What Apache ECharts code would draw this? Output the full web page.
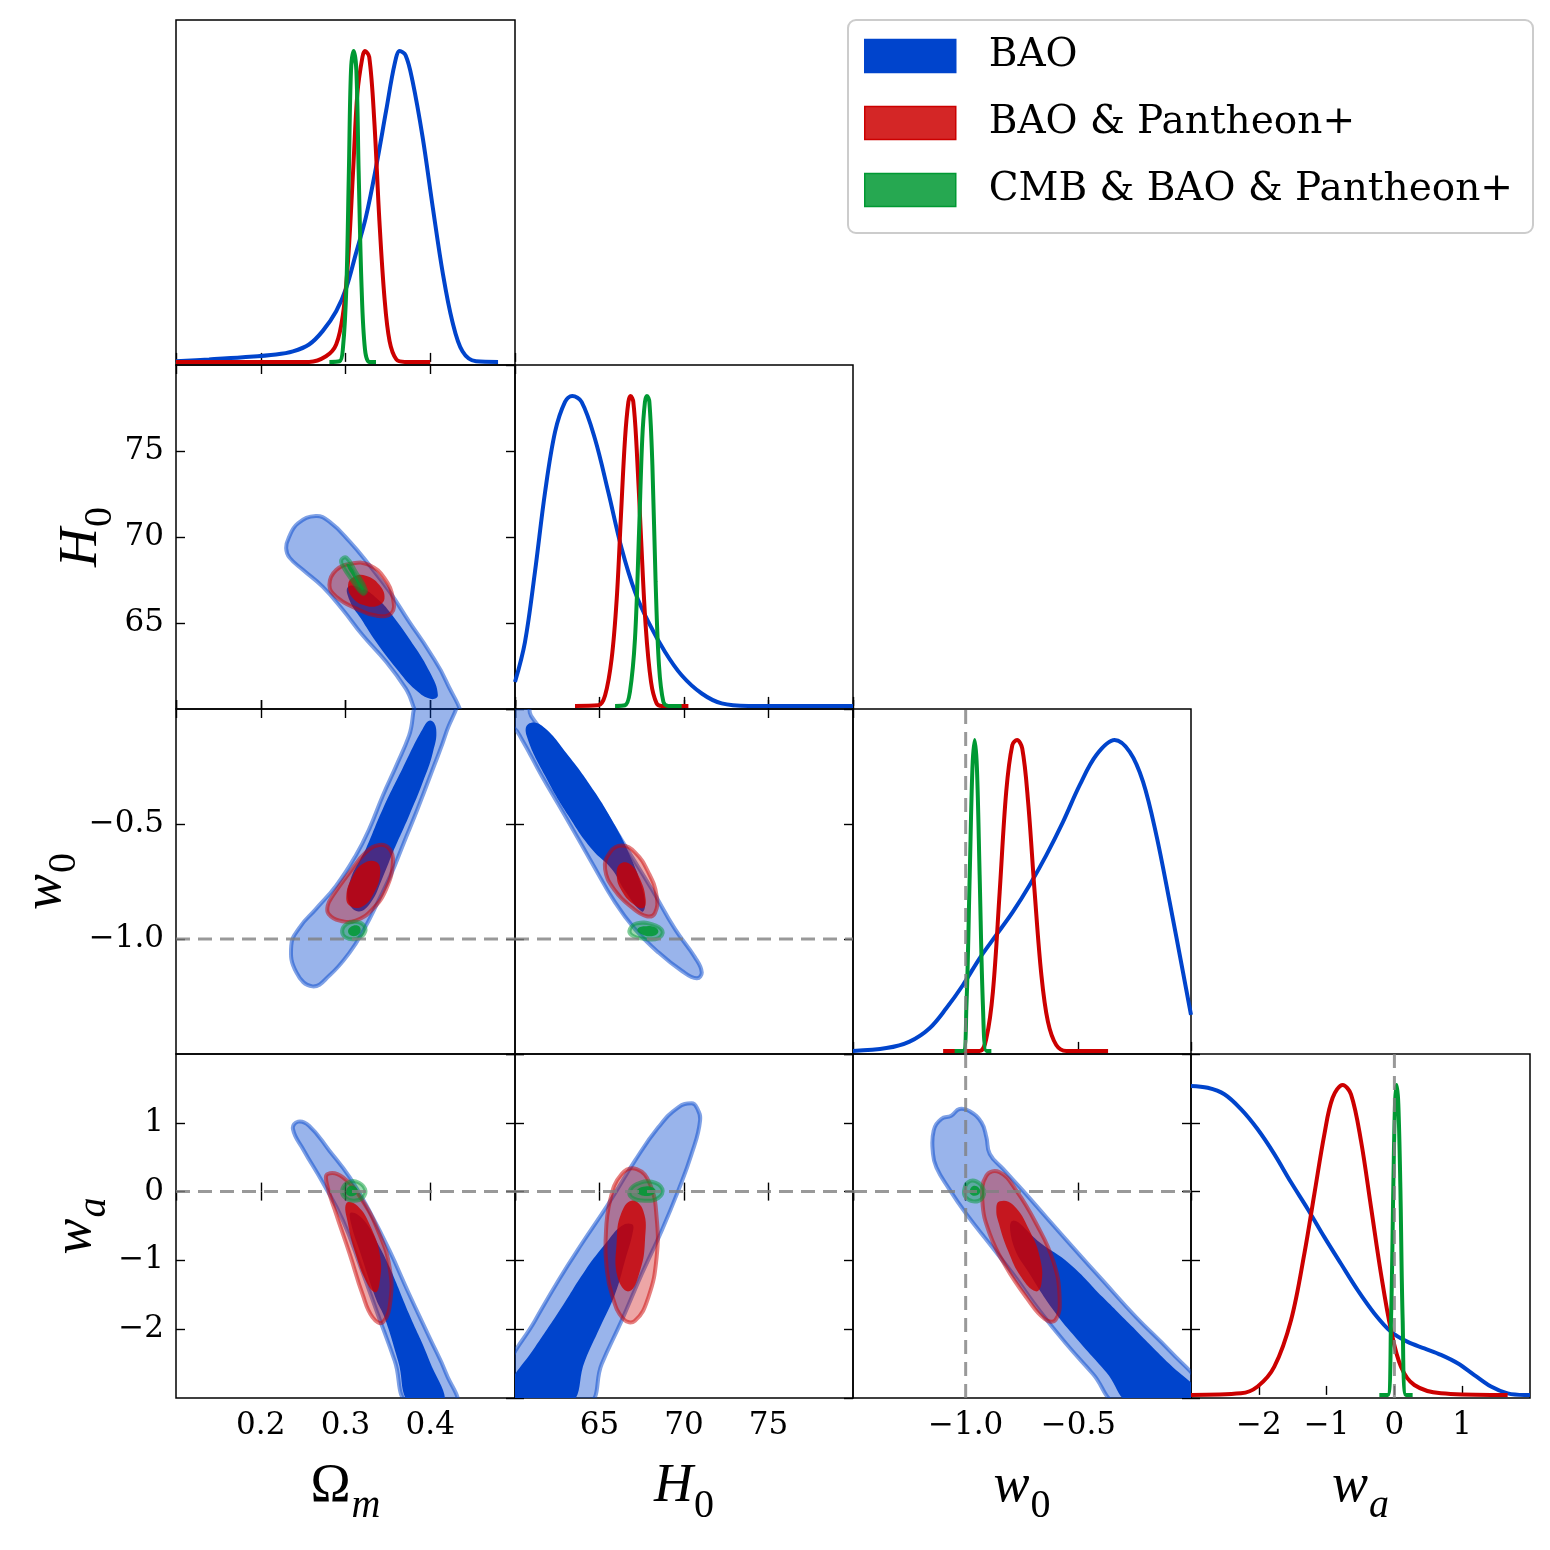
<!DOCTYPE html>
<html>
<head>
<meta charset="utf-8">
<script src="https://cdn.jsdelivr.net/npm/echarts@6/dist/echarts.min.js"></script>
<style>
  html, body { margin: 0; padding: 0; background: #fff; }
  #chart { width: 1550px; height: 1550px; }
</style>
</head>
<body>
<div id="chart"></div>
<script>
// dataset names
var datasets = ['BAO', 'BAO & Pantheon+', 'CMB & BAO & Pantheon+'];

// reference values (dashed lines)
var refW0 = -1;
var refWa = 0;

// ---- 1D marginals, normalised to peak = 1 ----
var om_pdf_bao = [[0.100,0.002],[0.139,0.008],[0.179,0.015],[0.218,0.024],[0.238,0.034],[0.257,0.056],[0.273,0.099],[0.289,0.163],[0.301,0.239],[0.312,0.346],[0.324,0.465],[0.336,0.626],[0.348,0.809],[0.358,0.959],[0.364,1.000],[0.371,0.986],[0.379,0.905],[0.391,0.723],[0.403,0.497],[0.415,0.282],[0.426,0.131],[0.438,0.034],[0.454,0.002],[0.480,0.000]];
var om_pdf_baop = [[0.100,0],[0.257,0],[0.277,0.018],[0.289,0.056],[0.297,0.153],[0.303,0.325],[0.309,0.615],[0.314,0.863],[0.320,0.981],[0.323,1.0],[0.328,0.981],[0.334,0.774],[0.340,0.454],[0.346,0.206],[0.352,0.067],[0.360,0.008],[0.370,0],[0.400,0]];
var om_pdf_cmb = [[0.281,0],[0.293,0.002],[0.297,0.045],[0.301,0.239],[0.304,0.615],[0.3065,0.938],[0.3096,1.0],[0.3128,0.938],[0.3155,0.615],[0.319,0.239],[0.323,0.04],[0.328,0],[0.336,0]];

var h0_pdf_bao = [[60.0,0.077],[60.59,0.206],[61.18,0.432],[61.78,0.690],[62.37,0.884],[62.96,0.981],[63.39,1.0],[63.94,0.981],[64.73,0.862],[65.52,0.690],[66.31,0.508],[67.10,0.368],[67.89,0.271],[68.88,0.174],[69.86,0.099],[71.05,0.040],[72.23,0.008],[73.81,0],[80,0]];
var h0_pdf_baop = [[63.55,0],[64.93,0.002],[65.33,0.034],[65.72,0.153],[66.02,0.346],[66.27,0.615],[66.51,0.862],[66.71,0.981],[66.84,1.0],[67.0,0.981],[67.20,0.830],[67.46,0.540],[67.73,0.260],[68.05,0.077],[68.38,0.008],[68.68,0],[70.26,0]];
var h0_pdf_cmb = [[65.92,0],[66.51,0.002],[66.80,0.045],[67.10,0.217],[67.34,0.561],[67.53,0.862],[67.69,0.981],[67.81,1.0],[67.95,0.981],[68.13,0.776],[68.32,0.4],[68.52,0.131],[68.78,0.013],[69.07,0],[69.86,0]];

var w0_pdf_bao = [[-1.5,0],[-1.352,0.009],[-1.249,0.030],[-1.160,0.073],[-1.086,0.137],[-1.012,0.212],[-0.938,0.298],[-0.864,0.373],[-0.790,0.448],[-0.716,0.534],[-0.642,0.630],[-0.568,0.737],[-0.494,0.855],[-0.420,0.952],[-0.339,1.0],[-0.272,0.962],[-0.213,0.866],[-0.154,0.695],[-0.095,0.480],[-0.036,0.255],[0.0,0.116]];
var w0_pdf_baop = [[-1.1,0],[-0.938,0],[-0.908,0.041],[-0.879,0.191],[-0.849,0.512],[-0.820,0.834],[-0.793,0.984],[-0.772,1.0],[-0.749,0.973],[-0.723,0.802],[-0.694,0.512],[-0.664,0.244],[-0.635,0.094],[-0.598,0.019],[-0.553,0],[-0.368,0]];
var w0_pdf_cmb = [[-1.049,0],[-1.012,0],[-0.997,0.137],[-0.982,0.566],[-0.970,0.909],[-0.960,1.0],[-0.950,0.909],[-0.938,0.566],[-0.923,0.137],[-0.908,0],[-0.886,0]];

var wa_pdf_bao = [[-3.0,0.997],[-2.754,0.991],[-2.508,0.970],[-2.263,0.922],[-2.017,0.857],[-1.771,0.777],[-1.525,0.686],[-1.279,0.600],[-1.033,0.509],[-0.788,0.423],[-0.542,0.338],[-0.296,0.263],[-0.050,0.204],[0.196,0.171],[0.441,0.150],[0.687,0.129],[0.933,0.102],[1.179,0.064],[1.425,0.027],[1.671,0.005],[1.917,0],[2.0,0]];
var wa_pdf_baop = [[-3.0,0],[-2.263,0.005],[-2.017,0.027],[-1.771,0.091],[-1.525,0.241],[-1.328,0.456],[-1.181,0.648],[-1.033,0.841],[-0.911,0.959],[-0.763,1.0],[-0.640,0.970],[-0.493,0.820],[-0.345,0.606],[-0.198,0.391],[-0.050,0.209],[0.097,0.091],[0.294,0.032],[0.687,0.005],[1.425,0],[1.67,0]];
var wa_pdf_cmb = [[-0.222,0],[-0.099,0],[-0.050,0.241],[-0.016,0.670],[0.009,0.938],[0.033,1.0],[0.058,0.938],[0.088,0.670],[0.122,0.241],[0.171,0],[0.269,0]];

// ---- 2D contours (95% outer, 68% inner) ----
var omH0_bao_95 = [[0.230,69.34],[0.233,69.95],[0.244,70.80],[0.265,71.22],[0.281,70.89],[0.305,69.73],[0.328,68.37],[0.352,66.82],[0.375,65.08],[0.399,63.33],[0.419,61.59],[0.434,59.4],[0.392,59.4],[0.371,61.20],[0.348,62.75],[0.320,64.30],[0.297,65.76],[0.273,67.11],[0.250,68.08],[0.234,68.80]];
var omH0_bao_68 = [[0.303,67.1],[0.320,67.0],[0.340,66.3],[0.352,65.66],[0.375,64.1],[0.399,62.2],[0.409,60.81],[0.401,60.58],[0.383,61.10],[0.360,62.36],[0.336,63.91],[0.318,65.27],[0.305,66.3]];
var omH0_baop_95 = [[0.281,67.21],[0.289,68.08],[0.309,68.47],[0.328,68.37],[0.346,67.60],[0.356,66.43],[0.354,65.56],[0.336,65.43],[0.312,65.85],[0.289,66.53]];
var omH0_baop_68 = [[0.303,67.21],[0.310,67.69],[0.324,67.75],[0.340,67.21],[0.346,66.43],[0.338,66.01],[0.324,66.01],[0.309,66.43]];
var omH0_cmb_95 = [[0.295,68.66],[0.301,68.80],[0.312,67.98],[0.324,66.92],[0.320,66.72],[0.309,67.40],[0.297,68.28]];
var omH0_cmb_68 = [[0.301,68.41],[0.305,68.37],[0.314,67.60],[0.322,66.92],[0.319,66.90],[0.310,67.60]];

var omW0_bao_95 = [[0.236,-1.029],[0.242,-1.145],[0.261,-1.206],[0.281,-1.159],[0.305,-1.058],[0.322,-0.957],[0.338,-0.841],[0.354,-0.717],[0.369,-0.580],[0.385,-0.435],[0.403,-0.261],[0.419,-0.101],[0.430,0.05],[0.389,0.05],[0.375,-0.116],[0.360,-0.246],[0.344,-0.377],[0.328,-0.522],[0.312,-0.638],[0.289,-0.768],[0.265,-0.870],[0.246,-0.949]];
var omW0_bao_68 = [[0.400,-0.050],[0.407,-0.087],[0.403,-0.19],[0.391,-0.32],[0.375,-0.464],[0.356,-0.623],[0.343,-0.74],[0.330,-0.84],[0.315,-0.88],[0.303,-0.83],[0.306,-0.74],[0.318,-0.65],[0.324,-0.609],[0.344,-0.435],[0.367,-0.261],[0.391,-0.087]];
var omW0_baop_95 = [[0.279,-0.855],[0.285,-0.812],[0.305,-0.710],[0.324,-0.623],[0.340,-0.591],[0.352,-0.609],[0.356,-0.667],[0.348,-0.783],[0.332,-0.870],[0.312,-0.920],[0.293,-0.920],[0.280,-0.891]];
var omW0_baop_68 = [[0.301,-0.812],[0.307,-0.739],[0.320,-0.674],[0.336,-0.664],[0.341,-0.710],[0.334,-0.797],[0.320,-0.859],[0.305,-0.855]];
var omW0_cmb_95 = [[0.296,-0.964],[0.301,-0.935],[0.312,-0.925],[0.322,-0.942],[0.322,-0.978],[0.312,-1.0],[0.300,-0.993]];
var omW0_cmb_68 = [[0.303,-0.964],[0.309,-0.942],[0.317,-0.949],[0.316,-0.978],[0.307,-0.986]];

var h0W0_bao_95 = [[59.5,0.05],[60.75,0.05],[60.95,-0.03],[62.96,-0.203],[64.93,-0.406],[66.51,-0.594],[68.09,-0.783],[69.47,-0.957],[70.65,-1.080],[71.05,-1.145],[70.75,-1.171],[69.86,-1.138],[68.48,-1.058],[67.10,-0.957],[65.92,-0.841],[64.54,-0.667],[62.96,-0.464],[61.58,-0.290],[60.39,-0.130],[59.9,-0.08],[59.5,-0.08]];
var h0W0_bao_68 = [[60.79,-0.065],[61.58,-0.072],[63.16,-0.203],[64.73,-0.362],[65.92,-0.507],[66.71,-0.623],[67.4,-0.75],[67.7,-0.85],[67.5,-0.88],[66.5,-0.79],[65.72,-0.696],[64.54,-0.609],[63.16,-0.464],[61.78,-0.290],[60.69,-0.116]];
var h0W0_baop_95 = [[65.33,-0.696],[65.62,-0.623],[66.31,-0.594],[67.10,-0.623],[67.89,-0.710],[68.38,-0.812],[68.28,-0.887],[67.79,-0.901],[66.90,-0.862],[65.92,-0.790]];
var h0W0_baop_68 = [[66.02,-0.725],[66.21,-0.674],[66.80,-0.674],[67.40,-0.739],[67.73,-0.826],[67.59,-0.865],[67.00,-0.848],[66.31,-0.790]];
var h0W0_cmb_95 = [[66.80,-0.957],[67.20,-0.932],[68.09,-0.935],[68.72,-0.964],[68.48,-0.997],[67.69,-1.0],[66.90,-0.983]];
var h0W0_cmb_68 = [[67.24,-0.959],[67.59,-0.945],[68.28,-0.949],[68.48,-0.971],[68.09,-0.988],[67.46,-0.978]];

var omWa_bao_95 = [[0.244,1.017],[0.257,0.958],[0.281,0.595],[0.305,0.207],[0.328,-0.277],[0.352,-0.859],[0.375,-1.488],[0.399,-2.118],[0.419,-2.651],[0.430,-3.1],[0.375,-3.1],[0.358,-2.457],[0.338,-1.779],[0.318,-1.101],[0.297,-0.422],[0.273,0.135],[0.251,0.595],[0.238,0.910]];
var omWa_bao_68 = [[0.3065,-0.305],[0.322,-0.42],[0.340,-0.80],[0.352,-1.101],[0.375,-1.779],[0.399,-2.457],[0.416,-3.1],[0.377,-3.1],[0.362,-2.457],[0.346,-1.828],[0.336,-1.56],[0.318,-0.907],[0.3065,-0.461]];
var omWa_baop_95 = [[0.279,0.256],[0.297,0.207],[0.320,-0.132],[0.340,-0.616],[0.352,-1.101],[0.353,-1.585],[0.344,-1.900],[0.332,-1.828],[0.320,-1.488],[0.305,-0.907],[0.289,-0.326],[0.278,0.110]];
var omWa_baop_68 = [[0.301,-0.171],[0.314,-0.205],[0.330,-0.519],[0.341,-0.955],[0.340,-1.343],[0.335,-1.464],[0.324,-1.295],[0.312,-0.907],[0.303,-0.471]];
var omWa_cmb_95 = [[0.296,0.014],[0.301,0.120],[0.312,0.149],[0.323,0.038],[0.320,-0.093],[0.309,-0.132],[0.299,-0.083]];
var omWa_cmb_68 = [[0.301,0.014],[0.305,0.081],[0.312,0.062],[0.314,-0.010],[0.309,-0.064],[0.302,-0.044]];

var h0Wa_bao_95 = [[70.75,1.225],[70.95,1.031],[70.45,0.547],[69.66,0.014],[68.68,-0.568],[67.50,-1.198],[66.31,-1.876],[65.13,-2.506],[64.24,-3.1],[59.5,-3.1],[59.5,-2.6],[61.18,-1.876],[62.56,-1.295],[63.94,-0.762],[65.52,-0.180],[67.10,0.450],[68.48,0.934],[69.66,1.225],[70.45,1.283]];
var h0Wa_bao_68 = [[59.5,-3.1],[59.5,-2.87],[61.18,-2.264],[62.76,-1.682],[64.14,-1.149],[65.42,-0.737],[66.3,-0.5],[66.9,-0.47],[67.0,-0.55],[66.51,-1.0],[65.92,-1.488],[65.03,-1.973],[64.14,-2.457],[63.16,-3.1]];
var h0Wa_baop_95 = [[65.36,-0.713],[65.62,-0.132],[66.31,0.256],[67.20,0.328],[67.99,0.110],[68.38,-0.374],[68.38,-0.955],[67.89,-1.537],[67.10,-1.876],[66.41,-1.852],[65.72,-1.488],[65.42,-1.101]];
var h0Wa_baop_68 = [[66.02,-0.713],[66.27,-0.326],[66.90,-0.132],[67.59,-0.277],[67.69,-0.713],[67.40,-1.149],[66.75,-1.450],[66.07,-1.246]];
var h0Wa_cmb_95 = [[66.80,0.014],[67.20,0.110],[68.09,0.144],[68.72,0.038],[68.48,-0.093],[67.69,-0.132],[66.90,-0.083]];
var h0Wa_cmb_68 = [[67.20,0.014],[67.59,0.072],[68.13,0.062],[68.32,0.004],[67.99,-0.059],[67.40,-0.044]];

var w0Wa_bao_95 = [[-1.145,0.547],[-1.142,0.886],[-1.108,1.055],[-1.064,1.104],[-1.027,1.201],[-0.982,1.167],[-0.930,1.007],[-0.908,0.789],[-0.893,0.547],[-0.834,0.329],[-0.746,0.014],[-0.642,-0.374],[-0.524,-0.810],[-0.391,-1.295],[-0.243,-1.828],[-0.095,-2.312],[0.05,-2.85],[0.05,-3.1],[-0.317,-3.1],[-0.435,-2.651],[-0.553,-2.215],[-0.672,-1.731],[-0.790,-1.198],[-0.893,-0.762],[-0.997,-0.326],[-1.078,0.062],[-1.130,0.353]];
var w0Wa_bao_68 = [[-0.790,-0.422],[-0.672,-0.737],[-0.538,-1.052],[-0.391,-1.537],[-0.243,-2.021],[-0.095,-2.506],[0.05,-2.95],[0.05,-3.1],[-0.257,-3.1],[-0.376,-2.624],[-0.494,-2.188],[-0.598,-1.779],[-0.716,-1.198],[-0.790,-0.762]];
var w0Wa_baop_95 = [[-0.908,0.232],[-0.849,0.280],[-0.775,0.014],[-0.686,-0.471],[-0.612,-1.004],[-0.583,-1.537],[-0.601,-1.866],[-0.649,-1.852],[-0.731,-1.537],[-0.820,-1.101],[-0.893,-0.616],[-0.926,-0.132]];
var w0Wa_baop_68 = [[-0.849,-0.141],[-0.790,-0.190],[-0.716,-0.568],[-0.669,-0.980],[-0.664,-1.343],[-0.689,-1.450],[-0.753,-1.246],[-0.812,-0.859],[-0.852,-0.471],[-0.864,-0.253]];
var w0Wa_cmb_95 = [[-1.007,0.014],[-0.990,0.135],[-0.953,0.149],[-0.920,0.023],[-0.930,-0.108],[-0.967,-0.142],[-1.0,-0.083]];
var w0Wa_cmb_68 = [[-0.982,0.014],[-0.967,0.081],[-0.941,0.052],[-0.938,-0.025],[-0.960,-0.059],[-0.979,-0.034]];

// ---- tables built from the arrays above ----
var params = ['om', 'h0', 'w0', 'wa'];
var pdfs = {
  om: [om_pdf_bao, om_pdf_baop, om_pdf_cmb],
  h0: [h0_pdf_bao, h0_pdf_baop, h0_pdf_cmb],
  w0: [w0_pdf_bao, w0_pdf_baop, w0_pdf_cmb],
  wa: [wa_pdf_bao, wa_pdf_baop, wa_pdf_cmb]
};
var contours = {
  'om|h0': [[omH0_bao_95, omH0_bao_68], [omH0_baop_95, omH0_baop_68], [omH0_cmb_95, omH0_cmb_68]],
  'om|w0': [[omW0_bao_95, omW0_bao_68], [omW0_baop_95, omW0_baop_68], [omW0_cmb_95, omW0_cmb_68]],
  'h0|w0': [[h0W0_bao_95, h0W0_bao_68], [h0W0_baop_95, h0W0_baop_68], [h0W0_cmb_95, h0W0_cmb_68]],
  'om|wa': [[omWa_bao_95, omWa_bao_68], [omWa_baop_95, omWa_baop_68], [omWa_cmb_95, omWa_cmb_68]],
  'h0|wa': [[h0Wa_bao_95, h0Wa_bao_68], [h0Wa_baop_95, h0Wa_baop_68], [h0Wa_cmb_95, h0Wa_cmb_68]],
  'w0|wa': [[w0Wa_bao_95, w0Wa_bao_68], [w0Wa_baop_95, w0Wa_baop_68], [w0Wa_cmb_95, w0Wa_cmb_68]]
};
var refs = { w0: refW0, wa: refWa };

// axis ranges [min, max, interval]
var ranges = { om: [0.1, 0.5, 0.1], h0: [60, 80, 5], w0: [-1.5, 0, 0.5], wa: [-3, 2, 1] };
var decimals = { om: 1, h0: 0, w0: 1, wa: 0 };

// ---- styling ----
var FONT = '"Liberation Serif", "DejaVu Serif", serif';
var TICKFONT = '"DejaVu Serif", serif';
var lineColors = ['#0044cc', '#cc0000', '#009933'];
var legendFill = ['#0044cc', 'rgba(204,0,0,0.85)', 'rgba(0,153,51,0.85)'];
var outerFill = ['rgba(0,68,204,0.4)', 'rgba(204,0,0,0.35)', 'rgba(0,153,51,0.38)'];
var outerStroke = ['rgba(0,68,204,0.5)', 'rgba(204,0,0,0.5)', 'rgba(0,153,51,0.5)'];
var innerFill = ['#0044cc', 'rgba(204,0,0,0.8)', 'rgba(0,153,51,0.85)'];

var colX = [176, 515, 853, 1191, 1530];
var rowY = [20, 365, 709, 1054, 1398];

var richName = {
  u: { fontFamily: FONT, fontSize: 54, lineHeight: 60, verticalAlign: 'top', color: '#000' },
  i: { fontFamily: FONT, fontSize: 54, lineHeight: 60, fontStyle: 'italic', verticalAlign: 'top', color: '#000' },
  su: { fontFamily: FONT, fontSize: 40, lineHeight: 40, verticalAlign: 'top', padding: [26, 0, 0, 1], color: '#000' },
  si: { fontFamily: FONT, fontSize: 40, lineHeight: 40, fontStyle: 'italic', verticalAlign: 'top', padding: [26, 0, 0, 1], color: '#000' }
};
var names = {
  om: '{u|\u03A9}{si|m}',
  h0: '{i|H}{su|0}',
  w0: '{i|w}{su|0}',
  wa: '{i|w}{si|a}'
};

function fmt(p) {
  return function (v) {
    var s = Math.abs(v).toFixed(decimals[p]);
    if (Math.abs(v) < 1e-9) return (0).toFixed(decimals[p]);
    return v < 0 ? '\u2212' + s : s;
  };
}

var tick = { show: true, inside: true, length: 9, lineStyle: { color: '#000', width: 1.4 } };

function valueAxis(p, gridIndex, position, opts) {
  var r = ranges[p];
  return {
    type: 'value', gridIndex: gridIndex, position: position,
    min: r[0], max: r[1], interval: r[2],
    axisLine: { show: false },
    splitLine: { show: false },
    axisTick: opts.ticks ? tick : { show: false },
    axisLabel: {
      show: !!opts.labels, showMinLabel: false, showMaxLabel: false,
      formatter: fmt(p), fontFamily: TICKFONT, fontSize: 31, color: '#000', margin: 12
    },
    name: opts.name ? names[p] : '',
    nameLocation: 'middle',
    nameGap: opts.nameGap || 0,
    nameRotate: opts.nameRotate || 0,
    nameTextStyle: { rich: richName }
  };
}

var grids = [], xAxes = [], yAxes = [], series = [];

function polygonSeries(xi, yi, pts, fill, stroke, lw) {
  return {
    type: 'custom', xAxisIndex: xi, yAxisIndex: yi, clip: true, silent: true,
    data: pts,
    renderItem: function (params, api) {
      if (params.dataIndex !== 0) return null;
      return {
        type: 'polygon',
        shape: { points: pts.map(function (p) { return api.coord(p); }), smooth: 0.45 },
        style: { fill: fill, stroke: stroke || null, lineWidth: lw || 0 }
      };
    }
  };
}

function dashSeries(xi, yi, data) {
  return {
    type: 'line', xAxisIndex: xi, yAxisIndex: yi, data: data, symbol: 'none', silent: true, z: 10,
    lineStyle: { color: 'rgba(128,128,128,0.8)', width: 3, type: [14, 8] }
  };
}

for (var i = 0; i < 4; i++) {
  for (var j = 0; j <= i; j++) {
    var g = grids.length;
    grids.push({
      left: colX[j], top: rowY[i], width: colX[j + 1] - colX[j], height: rowY[i + 1] - rowY[i],
      show: true, borderColor: '#000', borderWidth: 1.5, backgroundColor: 'transparent'
    });
    var px = params[j], py = params[i];
    var bottomRow = (i === 3);
    var xi = xAxes.length;
    xAxes.push(valueAxis(px, g, 'bottom', { ticks: true, labels: bottomRow, name: bottomRow, nameGap: 62 }));
    if (i === j) {
      var yi = yAxes.length;
      yAxes.push({ type: 'value', gridIndex: g, min: -0.01, max: 1.1, show: false });
      pdfs[px].forEach(function (d, k) {
        series.push({
          type: 'line', name: datasets[k], xAxisIndex: xi, yAxisIndex: yi, data: d,
          smooth: 0.35, symbol: 'none', z: 5, silent: true,
          lineStyle: { color: lineColors[k], width: 4 }, itemStyle: { color: lineColors[k] }
        });
      });
      if (refs[px] !== undefined) {
        series.push(dashSeries(xi, yi, [[refs[px], -0.01], [refs[px], 1.1]]));
      }
    } else {
      xAxes.push(valueAxis(px, g, 'top', { ticks: true }));
      var leftCol = (j === 0);
      var yi = yAxes.length;
      yAxes.push(valueAxis(py, g, 'left', { ticks: true, labels: leftCol, name: leftCol, nameGap: 60, nameRotate: 90 }));
      yAxes.push(valueAxis(py, g, 'right', { ticks: true }));
      contours[px + '|' + py].forEach(function (c, k) {
        series.push(polygonSeries(xi, yi, c[0], outerFill[k], outerStroke[k], 4));
        series.push(polygonSeries(xi, yi, c[1], innerFill[k]));
      });
      if (refs[py] !== undefined) {
        series.push(dashSeries(xi, yi, [[ranges[px][0], refs[py]], [ranges[px][1], refs[py]]]));
      }
      if (refs[px] !== undefined) {
        series.push(dashSeries(xi, yi, [[refs[px], ranges[py][0]], [refs[px], ranges[py][1]]]));
      }
    }
  }
}

var chart = echarts.init(document.getElementById('chart'));
chart.setOption({
  backgroundColor: '#fff',
  animation: false,
  textStyle: { fontFamily: FONT },
  grid: grids,
  xAxis: xAxes,
  yAxis: yAxes,
  legend: {
    left: 848, top: 20, orient: 'vertical', selectedMode: false,
    padding: [16, 20, 23, 16], itemGap: 27, itemWidth: 91, itemHeight: 33,
    backgroundColor: '#fff', borderColor: '#cccccc', borderWidth: 2, borderRadius: 8,
    textStyle: { fontFamily: TICKFONT, fontSize: 39, color: '#000', lineHeight: 40, padding: [0, 0, 0, 28] },
    data: datasets.map(function (n, k) {
      return { name: n, icon: 'rect', itemStyle: { color: legendFill[k], borderColor: lineColors[k], borderWidth: 1.5 } };
    })
  },
  series: series
});
</script>
</body>
</html>
